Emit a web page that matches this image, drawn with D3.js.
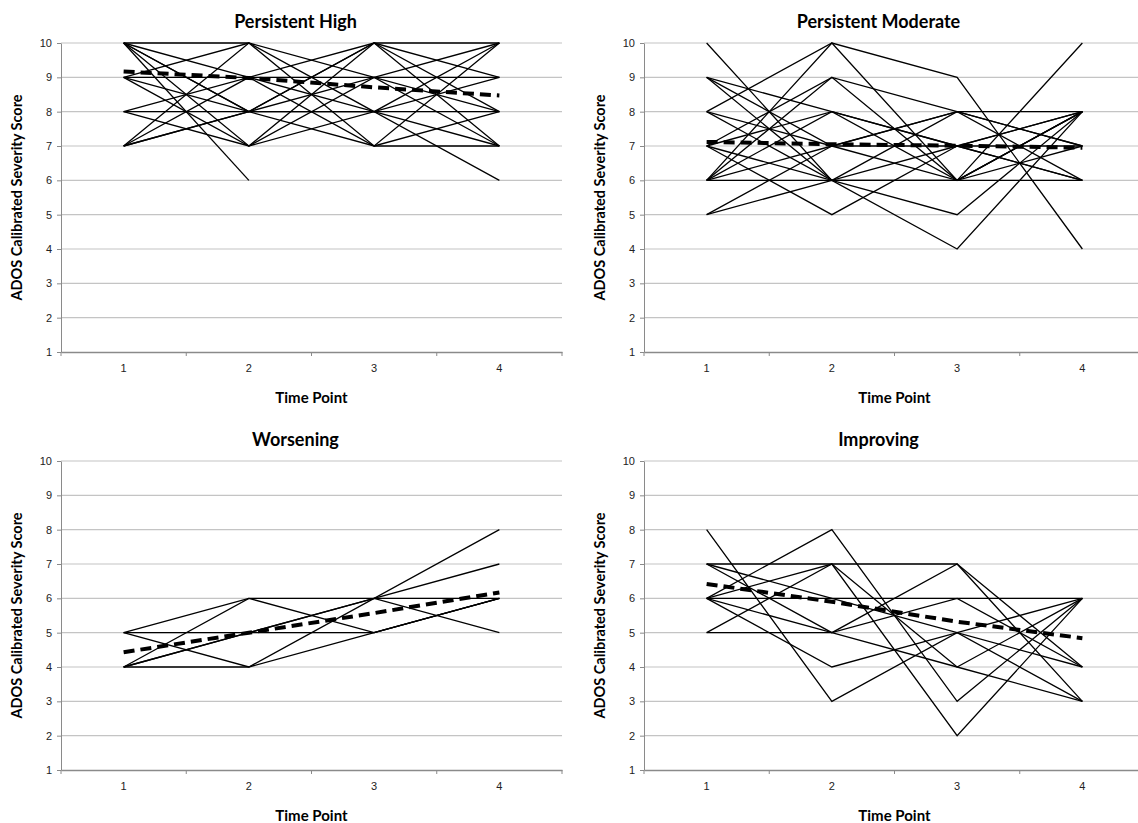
<!DOCTYPE html>
<meta charset="utf-8">
<style>
    body {margin: 0; background: #fff; font-family: 'Lato', sans-serif;}
    .tick text {font-size: 11px; fill: #222;}
</style>

<svg width="1138" height="823"></svg>

<script src="https://cdnjs.cloudflare.com/ajax/libs/d3/7.8.5/d3.min.js"></script>
<script>

// DATA
var timePoints = ["1", "2", "3", "4"];
var scoreTicks = [1, 2, 3, 4, 5, 6, 7, 8, 9, 10];

// one row per child: score at time point 1..4 (null = no visit)
var persistentHigh = [
  [10, 10, 9, 9], [10, 9, 9, 10], [10, 8, 10, 10], [10, 8, 9, 7],
  [10, 7, 10, 8], [10, 6, null, null], [9, 10, 8, 10], [9, 9, 10, 9],
  [9, 8, 8, 8], [9, 7, 8, 6], [8, 8, 8, 7], [8, 7, 9, 8],
  [8, 9, 8, 9], [7, 10, 7, 10], [7, 9, 7, 7], [7, 8, 7, 8], [7, 8, 10, 7]
];
var persistentHighMean = [9.17, 8.98, 8.71, 8.47];

var persistentModerate = [
  [10, 6, 8, 8], [9, 8, 7, 8], [9, 7, 7, 6], [9, 6, 7, 7],
  [8, 10, 9, 4], [8, 7, 6, 10], [8, 6, 6, 8], [7, 9, 8, 7],
  [7, 8, 6, 7], [7, 6, 5, 8], [7, 5, 7, 8], [6, 10, 6, 8],
  [6, 9, 6, 6], [6, 8, 7, 6], [6, 7, 8, 6], [6, 6, 4, 8],
  [5, 6, 6, 8], [5, 7, 8, 7]
];
var persistentModerateMean = [7.12, 7.05, 7.01, 6.95];

var worsening = [
  [5, 6, 6, 8], [5, 5, 5, 6], [5, 4, 6, 7], [4, 6, 5, 6],
  [4, 5, 6, 6], [4, 4, 5, 6], [4, 5, 6, 5]
];
var worseningMean = [4.43, 5.0, 5.57, 6.17];

var improving = [
  [8, 3, 5, 4], [7, 7, 7, 3], [7, 6, 6, 6], [7, 5, 7, 4],
  [6, 8, 3, 6], [6, 7, 2, 6], [6, 6, 5, 6], [6, 5, 6, 4],
  [6, 4, 5, 3], [5, 5, 4, 3], [5, 7, 4, 6]
];
var improvingMean = [6.42, 5.9, 5.32, 4.84];

var panels = [
  {title: "Persistent High",     rows: persistentHigh,     mean: persistentHighMean,     left: 61,  top: 43},
  {title: "Persistent Moderate", rows: persistentModerate, mean: persistentModerateMean, left: 644, top: 43},
  {title: "Worsening",           rows: worsening,          mean: worseningMean,          left: 61,  top: 461},
  {title: "Improving",           rows: improving,          mean: improvingMean,          left: 644, top: 461}
];

var svg = d3.select("svg"),
    plotW = 501,
    plotH = 309;

panels.forEach(drawPanel);

function drawPanel(p) {
  var g = svg.append("g").attr("transform", "translate(" + p.left + "," + p.top + ")");

  var x = d3.scaleBand().domain(timePoints).range([0, plotW]);
  var y = d3.scaleLinear().domain([1, 10]).range([plotH, 0]);

  // gridlines
  g.append("g")
    .selectAll("line")
    .data(scoreTicks.slice(1))
    .enter().append("line")
    .attr("x1", 0)
    .attr("x2", plotW)
    .attr("y1", function(d) { return y(d); })
    .attr("y2", function(d) { return y(d); })
    .style("stroke", "#c4c4c4")
    .style("stroke-width", 1.2);

  // y axis
  var ya = g.append("g")
    .call(d3.axisLeft(y).tickValues(scoreTicks).tickSize(4).tickSizeOuter(0).tickPadding(5));
  ya.selectAll("path, line").style("stroke", "#8a8a8a");

  // x axis: labels in the middle of each category, ticks on the boundaries
  var xa = g.append("g")
    .attr("transform", "translate(0," + plotH + ")")
    .call(d3.axisBottom(x).tickSize(0).tickSizeOuter(0).tickPadding(12));
  xa.select("path").style("stroke", "#8a8a8a").style("stroke-width", 1.3);

  var bounds = timePoints.map(function(d) { return x(d); }).concat([x.range()[1]]);
  g.append("g")
    .selectAll("line")
    .data(bounds)
    .enter().append("line")
    .attr("x1", function(d) { return d; })
    .attr("x2", function(d) { return d; })
    .attr("y1", plotH)
    .attr("y2", plotH + 4)
    .style("stroke", "#8a8a8a");

  var line = d3.line()
    .defined(function(d) { return d != null; })
    .x(function(d, i) { return x(timePoints[i]) + x.bandwidth() / 2; })
    .y(function(d) { return y(d); });

  // individual trajectories
  g.append("g")
    .selectAll("path")
    .data(p.rows)
    .enter().append("path")
    .attr("d", line)
    .style("fill", "none")
    .style("stroke", "#000")
    .style("stroke-width", 1.3);

  // group mean, dashed
  g.append("path")
    .attr("d", line(p.mean))
    .style("fill", "none")
    .style("stroke", "#000")
    .style("stroke-width", 4)
    .style("stroke-dasharray", "11,6");

  // titles
  g.append("text")
    .attr("x", plotW / 2 - 16)
    .attr("y", -15)
    .attr("text-anchor", "middle")
    .style("font-size", "18px")
    .style("font-weight", "bold")
    .text(p.title);

  g.append("text")
    .attr("x", plotW / 2)
    .attr("y", plotH + 51)
    .attr("text-anchor", "middle")
    .style("font-size", "15px")
    .style("font-weight", "bold")
    .text("Time Point");

  g.append("text")
    .attr("transform", "translate(-39," + (plotH / 2) + ") rotate(-90)")
    .attr("text-anchor", "middle")
    .style("font-size", "14.5px")
    .style("font-weight", "bold")
    .text("ADOS Calibrated Severity Score");
}

</script>
